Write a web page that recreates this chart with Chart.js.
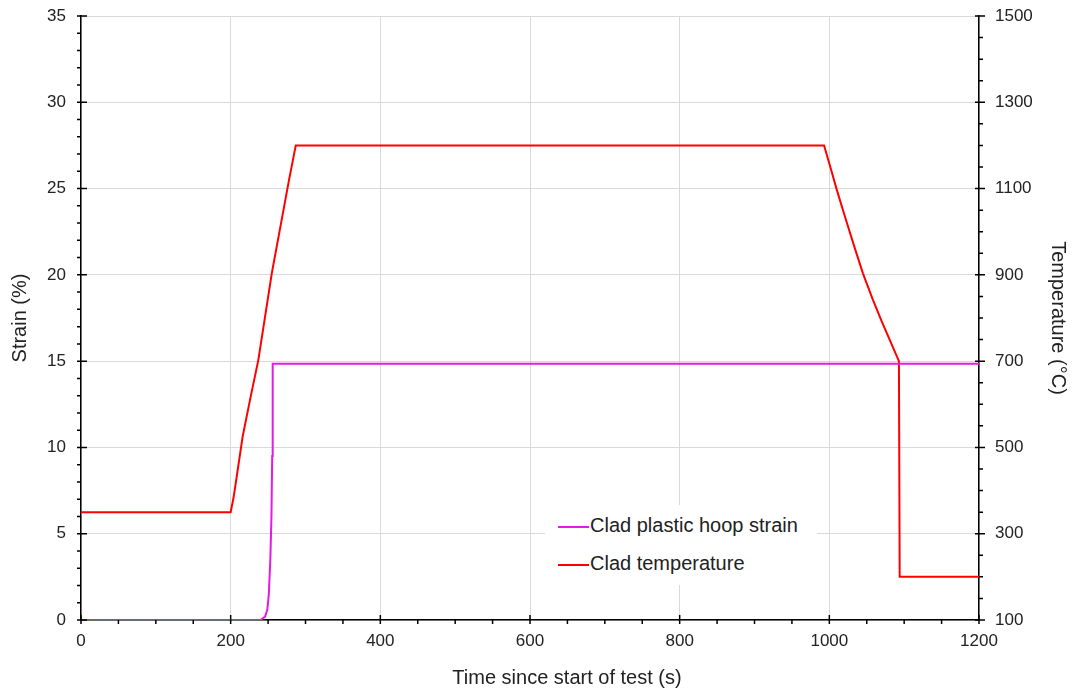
<!DOCTYPE html>
<html>
<head>
<meta charset="utf-8">
<script src="https://cdn.jsdelivr.net/npm/chart.js@4/dist/chart.umd.min.js"></script>
<style>
  body { margin: 0; background: #fff; }
  #wrap { position: relative; width: 1072px; height: 688px; font-family: "Liberation Sans", Arial, sans-serif; color: #222; }
  #legend { position: absolute; left: 545px; top: 505px; width: 272px; height: 80px; background: #fff; font-size: 20px; }
  .item { position: absolute; left: 13px; height: 24px; line-height: 24px; white-space: nowrap; }
  .item span { display: inline-block; width: 31px; height: 2px; vertical-align: middle; margin-right: 1px; }
  #xtitle { position: absolute; left: 567px; top: 665px; transform: translateX(-50%); font-size: 20px; line-height: 24px; white-space: nowrap; }
</style>
</head>
<body>
<div id="wrap">
  <canvas id="chart" width="1072" height="688"></canvas>
  <div id="legend"></div>
  <div id="xtitle">Time since start of test (s)</div>
</div>
<script>
// Clad plastic hoop strain (%) vs time (s)
const strainTime  = [0, 240, 246, 249, 251, 253, 254.5, 255.5, 256, 256.3, 1200];
const strainValue = [0, 0, 0.2, 0.6, 1.5, 3.5, 6, 9.5, 13, 14.85, 14.85];

// Clad temperature (°C) vs time (s)
const tempTime  = [0, 200, 204, 216, 227, 237, 255, 278, 287,
                   993, 1002, 1010, 1020, 1032, 1045, 1058, 1070, 1082, 1093, 1094, 1200];
const tempValue = [350, 350, 385, 525, 620, 703, 904, 1120, 1200,
                   1200, 1146, 1097, 1040, 973, 903, 843, 792, 744, 700, 200, 200];

const seriesLabels = ['Clad plastic hoop strain', 'Clad temperature'];
const seriesColors = ['#e619e6', '#ff0000'];

const xRange = [0, 1200], xMajorStep = 200, xMinorStep = 50;
const yRange = [0, 35], yMajorStep = 5, yMinorStep = 1;
const y2Range = [100, 1500], y2MajorStep = 200, y2MinorStep = 50;

const toPoints = (xs, ys) => xs.map((v, i) => ({ x: v, y: ys[i] }));
const family = '"Liberation Sans", Arial, sans-serif';
const tickFont = { family: family, size: 17 };
const titleFont = { family: family, size: 20 };
const textColor = '#222';
const plain = v => String(v);

// minor and major tick marks drawn from the scales
const tickMarks = {
    id: 'tickMarks',
    afterDraw(chart) {
        const { ctx, scales: { x, y, y2 } } = chart;
        ctx.save();
        ctx.strokeStyle = '#000';
        ctx.lineWidth = 1.5;
        ctx.beginPath();
        for (let v = xRange[0]; v <= xRange[1]; v += xMinorStep) {
            const px = x.getPixelForValue(v);
            const major = v % xMajorStep === 0;
            ctx.moveTo(px, x.top - (major ? 5 : 0));
            ctx.lineTo(px, x.top + 4);
        }
        for (let v = yRange[0]; v <= yRange[1]; v += yMinorStep) {
            const py = y.getPixelForValue(v);
            const major = v % yMajorStep === 0;
            ctx.moveTo(y.right - 4, py);
            ctx.lineTo(y.right + (major ? 6 : 0), py);
        }
        for (let v = y2Range[0]; v <= y2Range[1]; v += y2MinorStep) {
            const py = y2.getPixelForValue(v);
            const major = (v - y2Range[0]) % y2MajorStep === 0;
            ctx.moveTo(y2.left - (major ? 4 : 0), py);
            ctx.lineTo(y2.left + (major ? 6 : 4), py);
        }
        ctx.stroke();
        ctx.restore();
    }
};

const fitVertical = w => s => { s.width = w; s.paddingTop = 0; s.paddingBottom = 0; };

new Chart(document.getElementById('chart'), {
    type: 'line',
    data: {
        datasets: [{
            label: seriesLabels[0],
            data: toPoints(strainTime, strainValue),
            borderColor: seriesColors[0],
            borderWidth: 2,
            pointRadius: 0,
            yAxisID: 'y'
        }, {
            label: seriesLabels[1],
            data: toPoints(tempTime, tempValue),
            borderColor: seriesColors[1],
            borderWidth: 2,
            pointRadius: 0,
            yAxisID: 'y2'
        }]
    },
    options: {
        responsive: false,
        animation: false,
        layout: { padding: { top: 16, left: 0, right: 0, bottom: 0 } },
        plugins: { legend: { display: false }, tooltip: { enabled: false } },
        scales: {
            x: {
                type: 'linear',
                min: xRange[0], max: xRange[1],
                ticks: { stepSize: xMajorStep, font: tickFont, color: textColor, padding: 11, maxRotation: 0, callback: plain },
                grid: { color: '#d9d9d9', drawTicks: false },
                border: { color: '#000', width: 1.5 },
                afterFit: s => { s.height = 68; }
            },
            y: {
                position: 'left',
                min: yRange[0], max: yRange[1],
                ticks: { stepSize: yMajorStep, font: tickFont, color: textColor, padding: 15, callback: plain },
                grid: { color: '#d9d9d9', drawTicks: false },
                border: { color: '#000', width: 1.5 },
                title: { display: true, text: 'Strain (%)', font: titleFont, color: textColor, padding: { top: 8, bottom: 0 } },
                afterFit: fitVertical(81)
            },
            y2: {
                position: 'right',
                min: y2Range[0], max: y2Range[1],
                ticks: { stepSize: y2MajorStep, font: tickFont, color: textColor, padding: 16, callback: plain },
                grid: { drawOnChartArea: false, drawTicks: false },
                border: { color: '#000', width: 1.5 },
                title: { display: true, text: 'Temperature (°C)', font: titleFont, color: textColor, padding: { top: 2, bottom: 0 } },
                afterFit: fitVertical(93)
            }
        }
    },
    plugins: [tickMarks]
});

// legend inside the plot
const legend = document.getElementById('legend');
seriesLabels.forEach((label, i) => {
    const row = document.createElement('div');
    row.className = 'item';
    row.style.top = (8 + i * 38) + 'px';
    row.innerHTML = '<span style="background:' + seriesColors[i] + '"></span>' + label;
    legend.appendChild(row);
});
</script>
</body>
</html>
